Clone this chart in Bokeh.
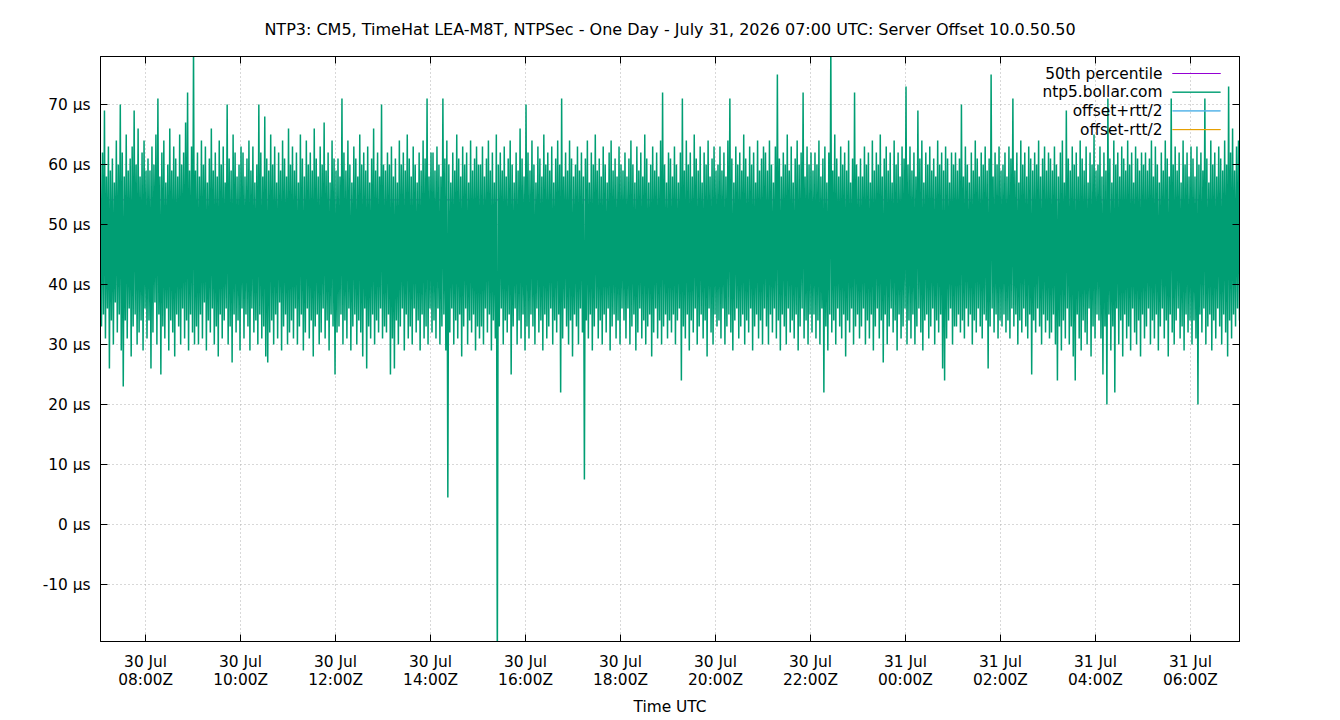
from datetime import datetime
from bokeh.plotting import figure
from bokeh.models import (Range1d, FixedTicker, LinearAxis, DatetimeAxis, Label,
                          BoxAnnotation, ColumnDataSource, CustomLabelingPolicy)
from bokeh.embed import file_html
from bokeh.resources import INLINE

TITLE = ("NTP3: CM5, TimeHat LEA-M8T, NTPSec - One Day - July 31, 2026 07:00 UTC: "
         "Server Offset 10.0.50.50")
X_LABEL = "Time UTC"

start_time = datetime(2026, 7, 30, 7, 3)
end_time = datetime(2026, 7, 31, 7, 2)

# offsets (microseconds), one list per hour of the day
off_30jul_07 = [60, 33, 62, 35, 69, 31, 58, 36, 63, 26, 59, 34, 61, 30, 57, 37, 64, 32, 60, 35, 70, 29, 62, 23, 58, 34, 65, 31, 59, 36, 61, 28, 63, 33, 69, 35, 60, 30, 66, 32, 58, 34, 62, 29, 64, 36, 59, 31]
off_30jul_08 = [61, 34, 59, 26, 63, 32, 60, 37, 65, 30, 71, 35, 58, 25, 62, 33, 64, 31, 57, 36, 60, 29, 66, 34, 59, 32, 63, 28, 61, 35, 58, 33, 65, 30, 60, 36, 62, 31, 67, 34, 72, 29, 59, 35, 63, 32, 80, 30]
off_30jul_09 = [59, 33, 62, 30, 58, 35, 64, 31, 60, 37, 63, 29, 57, 34, 61, 32, 66, 36, 59, 30, 62, 33, 58, 28, 64, 35, 60, 31, 63, 34, 57, 36, 70, 30, 61, 33, 59, 27, 65, 35, 62, 32, 58, 34, 60, 29, 63, 36]
off_30jul_10 = [62, 31, 58, 35, 61, 33, 64, 29, 59, 36, 63, 32, 57, 34, 60, 30, 70, 35, 62, 31, 58, 33, 68, 28, 61, 27, 59, 32, 65, 34, 60, 30, 63, 35, 57, 31, 62, 37, 59, 29, 64, 33, 61, 35, 58, 30, 66, 32]
off_30jul_11 = [60, 34, 63, 31, 59, 36, 62, 30, 57, 33, 65, 35, 61, 29, 58, 32, 64, 36, 60, 31, 62, 34, 59, 28, 66, 33, 61, 35, 58, 30, 63, 32, 60, 36, 67, 31, 59, 34, 62, 29, 57, 35, 64, 33, 61, 25, 59, 32]
off_30jul_12 = [61, 33, 58, 35, 71, 30, 62, 34, 59, 31, 64, 36, 60, 29, 57, 33, 63, 35, 61, 30, 58, 34, 65, 32, 60, 28, 62, 36, 59, 26, 63, 33, 57, 31, 61, 35, 66, 30, 59, 34, 62, 32, 58, 36, 70, 31, 60, 33]
off_30jul_13 = [59, 32, 62, 35, 60, 25, 63, 31, 58, 26, 61, 34, 57, 30, 64, 33, 60, 36, 62, 29, 59, 35, 65, 31, 61, 33, 58, 30, 63, 36, 60, 32, 57, 34, 62, 29, 59, 35, 64, 31, 61, 33, 71, 30, 58, 36, 62, 32]
off_30jul_14 = [62, 34, 59, 31, 63, 36, 60, 30, 58, 33, 71, 35, 61, 29, 64, 4.5, 60, 32, 57, 36, 62, 30, 59, 34, 65, 31, 61, 35, 58, 28, 63, 33, 60, 36, 62, 30, 57, 34, 64, 32, 59, 35, 61, 29, 63, 33, 60, 31]
off_30jul_15 = [60, 33, 63, 30, 58, 36, 61, 32, 64, 35, 59, 29, 62, 34, 57, 31, 65, -25, 60, 33, 62, 36, 59, 30, 63, 34, 58, 32, 61, 35, 64, 25, 60, 33, 57, 36, 62, 30, 59, 34, 66, 31, 61, 35, 58, 29, 70, 33]
off_30jul_16 = [62, 31, 59, 35, 64, 33, 60, 30, 57, 36, 63, 32, 61, 34, 58, 29, 65, 35, 60, 31, 62, 33, 59, 36, 63, 30, 57, 34, 61, 32, 64, 35, 60, 22, 71, 31, 58, 36, 62, 33, 59, 30, 64, 34, 61, 28, 58, 35]
off_30jul_17 = [60, 33, 63, 30, 59, 36, 62, 32, 58, 7.5, 61, 34, 64, 31, 57, 35, 62, 29, 60, 33, 65, 36, 59, 31, 61, 34, 58, 30, 63, 35, 60, 32, 57, 36, 62, 29, 64, 33, 59, 35, 61, 31, 58, 34, 63, 30, 60, 36]
off_30jul_18 = [59, 34, 62, 31, 58, 36, 61, 30, 64, 33, 60, 35, 57, 29, 63, 32, 59, 36, 62, 31, 58, 34, 65, 30, 61, 33, 57, 35, 60, 28, 63, 32, 59, 36, 62, 31, 58, 34, 64, 30, 72, 33, 60, 35, 57, 31, 62, 34]
off_30jul_19 = [61, 32, 58, 35, 63, 30, 60, 34, 57, 36, 62, 24, 71, 33, 59, 31, 64, 35, 60, 29, 62, 34, 58, 32, 65, 36, 61, 30, 59, 33, 63, 35, 57, 31, 62, 34, 60, 28, 64, 36, 58, 32, 61, 30, 63, 35, 59, 33]
off_30jul_20 = [60, 34, 63, 31, 59, 36, 62, 30, 58, 33, 64, 35, 71, 32, 61, 29, 57, 34, 63, 36, 60, 31, 62, 33, 59, 35, 65, 30, 61, 34, 58, 32, 63, 36, 60, 29, 62, 33, 57, 35, 64, 31, 59, 34, 61, 30, 63, 36]
off_30jul_21 = [62, 33, 59, 30, 64, 35, 60, 32, 57, 36, 63, 31, 75, 34, 61, 29, 58, 35, 62, 33, 60, 30, 65, 36, 59, 32, 63, 34, 57, 31, 61, 35, 64, 29, 60, 33, 62, 36, 72, 31, 58, 34, 63, 30, 60, 35, 62, 32]
off_30jul_22 = [59, 35, 62, 31, 60, 34, 64, 30, 58, 36, 61, 22, 63, 33, 57, 29, 62, 35, 80, 32, 59, 34, 65, 30, 61, 36, 58, 33, 63, 31, 60, 35, 62, 28, 59, 34, 64, 32, 57, 36, 61, 30, 72, 33, 60, 35, 58, 31]
off_30jul_23 = [61, 33, 58, 36, 63, 30, 60, 34, 62, 31, 57, 35, 64, 29, 59, 33, 62, 36, 60, 31, 65, 34, 58, 27, 61, 35, 63, 30, 59, 33, 62, 36, 57, 32, 64, 34, 60, 29, 62, 35, 58, 31, 63, 33, 61, 36, 73, 30]
off_31jul_00 = [60, 34, 63, 31, 59, 35, 62, 30, 58, 33, 69, 36, 61, 32, 64, 29, 57, 34, 62, 35, 60, 31, 63, 33, 59, 36, 61, 30, 58, 34, 64, 32, 60, 35, 62, 26, 59, 24, 63, 31, 61, 34, 57, 36, 62, 30, 60, 33]
off_31jul_01 = [62, 33, 59, 35, 61, 32, 70, 34, 58, 31, 63, 36, 60, 33, 57, 35, 62, 30, 59, 34, 64, 32, 61, 36, 58, 33, 62, 31, 60, 35, 63, 34, 59, 26, 61, 33, 75, 36, 58, 32, 62, 35, 60, 31, 63, 34, 59, 33]
off_31jul_02 = [60, 35, 62, 32, 58, 34, 63, 31, 61, 36, 71, 33, 59, 35, 62, 30, 57, 34, 64, 32, 60, 36, 62, 33, 58, 31, 63, 35, 61, 25, 59, 34, 62, 32, 60, 36, 64, 33, 58, 30, 61, 35, 63, 32, 59, 34, 62, 31]
off_31jul_03 = [61, 32, 59, 35, 63, 30, 60, 24, 58, 33, 62, 29, 64, 34, 57, 31, 69, 36, 61, 30, 59, 33, 63, 28, 60, 24, 62, 35, 58, 31, 64, 29, 61, 34, 59, 32, 63, 30, 57, 36, 62, 28, 60, 33, 65, 31, 59, 35]
off_31jul_04 = [60, 34, 63, 31, 58, 25, 62, 33, 59, 20, 71, 35, 61, 29, 57, 33, 64, 22, 60, 36, 62, 30, 58, 34, 63, 28, 61, 35, 59, 31, 64, 33, 60, 29, 62, 36, 57, 32, 63, 30, 61, 34, 59, 28, 62, 35, 60, 31]
off_31jul_05 = [62, 33, 59, 36, 61, 30, 64, 34, 58, 31, 63, 35, 60, 29, 57, 33, 62, 36, 59, 31, 64, 34, 61, 28, 58, 35, 71, 32, 60, 30, 63, 34, 59, 36, 62, 31, 57, 33, 64, 29, 60, 35, 62, 32, 58, 34, 63, 30]
off_31jul_06 = [61, 34, 58, 31, 63, 20, 60, 35, 62, 32, 59, 36, 71, 30, 61, 33, 57, 35, 64, 29, 60, 34, 62, 31, 58, 36, 63, 33, 61, 30, 59, 35, 64, 32, 60, 28, 73, 34, 62, 31, 66, 35, 59, 33, 63, 36, 64, 34]

percentile_50_us = 54.1

x_tick_times = ["2026-07-30 08:00", "2026-07-30 10:00", "2026-07-30 12:00", "2026-07-30 14:00",
                "2026-07-30 16:00", "2026-07-30 18:00", "2026-07-30 20:00", "2026-07-30 22:00",
                "2026-07-31 00:00", "2026-07-31 02:00", "2026-07-31 04:00", "2026-07-31 06:00"]
x_tick_labels = ["30 Jul\n08:00Z", "30 Jul\n10:00Z", "30 Jul\n12:00Z", "30 Jul\n14:00Z",
                 "30 Jul\n16:00Z", "30 Jul\n18:00Z", "30 Jul\n20:00Z", "30 Jul\n22:00Z",
                 "31 Jul\n00:00Z", "31 Jul\n02:00Z", "31 Jul\n04:00Z", "31 Jul\n06:00Z"]
y_ticks = [-10, 0, 10, 20, 30, 40, 50, 60, 70]
y_tick_labels = ["-10 µs", "0 µs", "10 µs", "20 µs", "30 µs", "40 µs", "50 µs", "60 µs", "70 µs"]
y_min, y_max = -19.5, 78.0

legend_labels = ["50th percentile", "ntp5.bollar.com", "offset+rtt/2", "offset-rtt/2"]
legend_colors = ["#9400d3", "#009e73", "#56b4e9", "#e69f00"]

# ---------------------------------------------------------------------------
offset_us = (off_30jul_07 + off_30jul_08 + off_30jul_09 + off_30jul_10 + off_30jul_11 +
             off_30jul_12 + off_30jul_13 + off_30jul_14 + off_30jul_15 + off_30jul_16 +
             off_30jul_17 + off_30jul_18 + off_30jul_19 + off_30jul_20 + off_30jul_21 +
             off_30jul_22 + off_30jul_23 + off_31jul_00 + off_31jul_01 + off_31jul_02 +
             off_31jul_03 + off_31jul_04 + off_31jul_05 + off_31jul_06)
n = len(offset_us)
span = end_time - start_time
times = [start_time + span * i / (n - 1) for i in range(n)]

EPOCH = datetime(1970, 1, 1)


def to_ms(dt):
    return (dt - EPOCH).total_seconds() * 1000.0


tick_ms = [to_ms(datetime.strptime(s, "%Y-%m-%d %H:%M")) for s in x_tick_times]

FONT = "DejaVu Sans"
FS = "15.4px"
W, H = 1340, 720
BL, BR, BT, BB = 100, 101, 56, 79
FRAME_W, FRAME_H = W - BL - BR, H - BT - BB

p = figure(width=W, height=H, x_axis_type="datetime",
           x_range=Range1d(start_time, end_time), y_range=Range1d(y_min, y_max),
           output_backend="svg", toolbar_location=None,
           min_border_left=BL, min_border_right=BR, min_border_top=BT, min_border_bottom=BB,
           background_fill_color="white", border_fill_color="white")

p.title.text = TITLE
p.title.align = "center"
p.title.text_font = FONT
p.title.text_font_size = "16px"
p.title.text_font_style = "normal"
p.title.text_color = "black"
p.title.standoff = 35

p.outline_line_color = "black"
p.outline_line_width = 1
p.outline_line_alpha = 1

# percentile line (behind the data)
p.line(x=[start_time, end_time], y=[percentile_50_us, percentile_50_us],
       line_color=legend_colors[0], line_width=1)

src = ColumnDataSource(dict(t=times, off=offset_us))
p.line(x="t", y="off", source=src, line_color=legend_colors[1], line_width=1.5)

# axes
xa = p.xaxis[0]
xa.ticker = FixedTicker(ticks=tick_ms)
xa.major_label_overrides = {t: lab for t, lab in zip(tick_ms, x_tick_labels)}
ya = p.yaxis[0]
ya.ticker = FixedTicker(ticks=y_ticks)
ya.major_label_overrides = {t: lab for t, lab in zip(y_ticks, y_tick_labels)}
for ax in (xa, ya):
    ax.major_tick_in = 7
    ax.major_tick_out = 0
    ax.minor_tick_line_color = None
    ax.axis_line_color = "black"
    ax.major_tick_line_color = "black"
    ax.major_label_text_font = FONT
    ax.major_label_text_font_size = FS
    ax.major_label_text_color = "black"
xa.major_label_text_line_height = 1.0
xa.major_label_standoff = 11
ya.major_label_standoff = 10
xa.axis_label = X_LABEL
xa.axis_label_text_font = FONT
xa.axis_label_text_font_size = FS
xa.axis_label_text_font_style = "normal"
xa.axis_label_text_color = "black"
xa.axis_label_standoff = 6

# mirrored tick marks on the top and right border (no labels)
NO_LABELS = "for (const i of [...indices]) { indices.unset(i) }\nreturn indices"
top_ax = DatetimeAxis(ticker=FixedTicker(ticks=tick_ms),
                      major_label_policy=CustomLabelingPolicy(code=NO_LABELS),
                      major_label_text_font_size="0px",
                      major_label_standoff=0, major_tick_in=7, major_tick_out=0,
                      minor_tick_line_color=None, axis_line_color="black",
                      major_tick_line_color="black")
p.add_layout(top_ax, "above")
right_ax = LinearAxis(ticker=FixedTicker(ticks=y_ticks),
                      major_label_policy=CustomLabelingPolicy(code=NO_LABELS),
                      major_label_text_font_size="0px",
                      major_label_standoff=0, major_tick_in=7, major_tick_out=0,
                      minor_tick_line_color=None, axis_line_color="black",
                      major_tick_line_color="black")
p.add_layout(right_ax, "right")

for g in (p.xgrid[0], p.ygrid[0]):
    g.grid_line_color = "#b0b0b0"
    g.grid_line_dash = "1 3"
    g.grid_line_width = 1
p.xgrid[0].ticker = FixedTicker(ticks=tick_ms)
p.ygrid[0].ticker = FixedTicker(ticks=y_ticks)

# gnuplot-style key: text right-aligned, line sample to its right
for k, (lab, col) in enumerate(zip(legend_labels, legend_colors)):
    yk = FRAME_H - 17 - k * 18.7
    p.add_layout(Label(x=FRAME_W - 77, y=yk, x_units="screen", y_units="screen", text=lab,
                       text_align="right", text_baseline="middle", text_font=FONT,
                       text_font_size=FS, text_color="black"))
    p.add_layout(BoxAnnotation(left=FRAME_W - 67, right=FRAME_W - 19, bottom=yk, top=yk,
                               left_units="screen", right_units="screen",
                               bottom_units="screen", top_units="screen",
                               fill_alpha=0, line_color=col, line_alpha=1, line_width=1))

open("out.html", "w").write(file_html(p, INLINE))
